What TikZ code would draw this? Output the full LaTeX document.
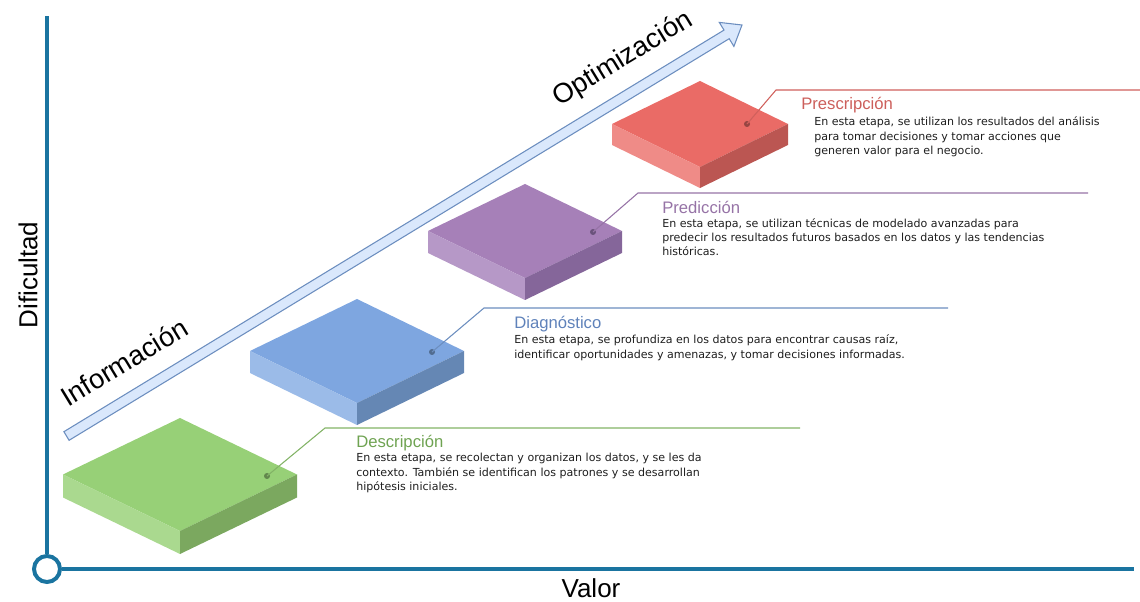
\documentclass[tikz,border=0pt]{standalone}
\usepackage{fontspec}
\setmainfont{Liberation Sans}
\newfontfamily\bodyfont{DejaVu Sans}
\usetikzlibrary{calc}
\definecolor{axis}{HTML}{1A74A0}
\definecolor{arrfill}{HTML}{DAE8FC}
\definecolor{arrdraw}{HTML}{6C8EBF}
\definecolor{gTop}{HTML}{97D077}\definecolor{gLeft}{HTML}{AAD98F}\definecolor{gRight}{HTML}{7BA85F}\definecolor{gLine}{HTML}{82B366}\definecolor{gTitle}{HTML}{6FA352}
\definecolor{bTop}{HTML}{7EA6E0}\definecolor{bLeft}{HTML}{9BBBE8}\definecolor{bRight}{HTML}{6587B4}\definecolor{bLine}{HTML}{6C8EBF}\definecolor{bTitle}{HTML}{5F82BA}
\definecolor{pTop}{HTML}{A680B8}\definecolor{pLeft}{HTML}{B698C7}\definecolor{pRight}{HTML}{85669A}\definecolor{pLine}{HTML}{9673A6}\definecolor{pTitle}{HTML}{9673A6}
\definecolor{rTop}{HTML}{EA6B66}\definecolor{rLeft}{HTML}{EF8B87}\definecolor{rRight}{HTML}{BB5652}\definecolor{rLine}{HTML}{D0605C}\definecolor{rTitle}{HTML}{CC5F5B}
\definecolor{bodytxt}{HTML}{1E1E1E}
\tikzset{
  bigtxt/.style={font=\fontsize{19.5}{22}\selectfont, text=black, inner sep=0},
  rottxt/.style={font=\fontsize{20.5}{24}\selectfont, text=black, inner sep=0},
  ttl/.style={font=\fontsize{12.5}{14}\selectfont, anchor=base west, inner sep=0},
  bodyline/.style={font=\bodyfont\fontsize{8.3}{10}\selectfont, text=bodytxt, anchor=base west, inner sep=0},
  leader/.style={line width=0.8pt},
  ldot/.style={circle, inner sep=0, minimum size=4.5pt},
}
% slab: #1 name, #2 cx, #3 top y, #4 half width, #5 half height, #6 thickness, #7 colour prefix
\newcommand{\isoslab}[7]{%
  \coordinate (#1T) at (#2,#3);
  \coordinate (#1L) at (#2-#4,#3+#5);
  \coordinate (#1R) at (#2+#4,#3+#5);
  \coordinate (#1F) at (#2,#3+2*#5);
  \coordinate (#1LB) at (#2-#4,#3+#5+#6);
  \coordinate (#1RB) at (#2+#4,#3+#5+#6);
  \coordinate (#1FB) at (#2,#3+2*#5+#6);
  \fill[#7Top] (#1T) -- (#1R) -- (#1F) -- (#1L) -- cycle;
  \fill[#7Left] (#1L) -- (#1F) -- (#1FB) -- (#1LB) -- cycle;
  \fill[#7Right] (#1F) -- (#1R) -- (#1RB) -- (#1FB) -- cycle;
}
\begin{document}
\begin{tikzpicture}[x=0.75pt,y=-0.75pt]
\useasboundingbox (0,0) rectangle (1140,602);

% axes
\coordinate (ytop) at (47,16);
\coordinate (xend) at (1134,569);
\node[circle, draw=axis, line width=3pt, fill=white, minimum size=19.5pt, inner sep=0] (origin) at (47,569) {};
\draw[axis, line width=3.2pt] (origin.north) -- (ytop);
\draw[axis, line width=3.2pt] (origin.east) -- (xend);

% axis labels
\node[bigtxt, rotate=90] (dif) at (28,275) {Dificultad};
\node[bigtxt] (valor) at (591,588) {Valor};

% big arrow
\coordinate (a1) at (69.1,440.3);
\coordinate (a2) at (729.2,38.7);
\coordinate (a3) at (733.9,46.4);
\coordinate (a4) at (742,25);
\coordinate (a5) at (719.3,22.4);
\coordinate (a6) at (724.0,30.1);
\coordinate (a7) at (63.9,431.7);
\filldraw[fill=arrfill, draw=arrdraw, line width=0.8pt, line join=miter]
  (a1) -- (a2) -- (a3) -- (a4) -- (a5) -- (a6) -- (a7) -- cycle;

\node[rottxt, rotate=31.3] (info) at (124,362) {Información};
\node[rottxt, rotate=31.3] (optim) at (623,59) {Optimización};

% slabs
\isoslab{g}{180}{418}{117}{56.5}{23}{g}
\isoslab{b}{357}{299}{107}{52}{22}{b}
\isoslab{p}{525}{184}{97}{47}{22}{p}
\isoslab{r}{700}{81}{88}{43}{21}{r}

% leaders
\node[ldot, fill=gRight!80!black] (gdot) at (267,476) {};
\coordinate (gel) at (325,428);
\coordinate (gend) at (800,428);
\draw[leader, gLine] (gdot.center) -- (gel) -- (gend);

\node[ldot, fill=bRight!80!black] (bdot) at (432,352) {};
\coordinate (bel) at (484,308);
\coordinate (bend) at (948,308);
\draw[leader, bLine] (bdot.center) -- (bel) -- (bend);

\node[ldot, fill=pRight!80!black] (pdot) at (593,232) {};
\coordinate (pel) at (638,193);
\coordinate (pend) at (1088,193);
\draw[leader, pLine] (pdot.center) -- (pel) -- (pend);

\node[ldot, fill=rRight!80!black] (rdot) at (747,124) {};
\coordinate (rel) at (776,90);
\coordinate (rend) at (1140,90);
\draw[leader, rLine] (rdot.center) -- (rel) -- (rend);

% texts: Descripcion
\node[ttl, text=gTitle] (gt) at (356,448) {Descripción};
\node[bodyline] (g1) at (356,462) {En esta etapa, se recolectan y organizan los datos, y se les da};
\node[bodyline] (g2) at (356,476.5) {contexto. También se identifican los patrones y se desarrollan};
\node[bodyline] (g3) at (356,491) {hipótesis iniciales.};

% Diagnostico
\node[ttl, text=bTitle] (bt) at (514,329) {Diagnóstico};
\node[bodyline] (b1) at (514,344) {En esta etapa, se profundiza en los datos para encontrar causas raíz,};
\node[bodyline] (b2) at (514,358.5) {identificar oportunidades y amenazas, y tomar decisiones informadas.};

% Prediccion
\node[ttl, text=pTitle] (pt) at (662,214) {Predicción};
\node[bodyline] (p1) at (662,228) {En esta etapa, se utilizan técnicas de modelado avanzadas para};
\node[bodyline] (p2) at (662,242) {predecir los resultados futuros basados en los datos y las tendencias};
\node[bodyline] (p3) at (662,256) {históricas.};

% Prescripcion
\node[ttl, text=rTitle] (rt) at (801,110) {Prescripción};
\node[bodyline] (r1) at (814,126) {En esta etapa, se utilizan los resultados del análisis};
\node[bodyline] (r2) at (814,140.5) {para tomar decisiones y tomar acciones que};
\node[bodyline] (r3) at (814,155) {generen valor para el negocio.};
\end{tikzpicture}
\end{document}
